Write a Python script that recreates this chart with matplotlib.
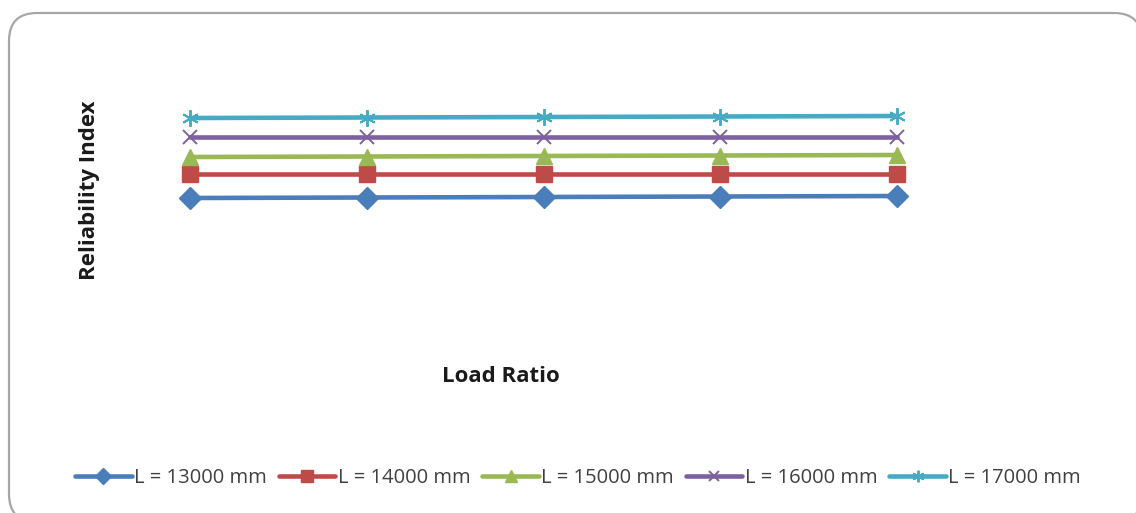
import matplotlib
matplotlib.use("Agg")
import matplotlib.pyplot as plt
from matplotlib.patches import FancyBboxPatch, Polygon

plt.rcParams['font.family'] = ['Open Sans', 'DejaVu Sans']

# load ratio and reliability index for each span length
load_ratio = [0.5, 1.0, 1.5, 2.0, 2.5]
beta_13000 = [3.35, 3.355, 3.36, 3.365, 3.37]
beta_14000 = [3.59, 3.59, 3.59, 3.59, 3.59]
beta_15000 = [3.76, 3.765, 3.77, 3.775, 3.78]
beta_16000 = [3.96, 3.96, 3.96, 3.96, 3.96]
beta_17000 = [4.15, 4.155, 4.16, 4.165, 4.17]
labels = ['L = 13000 mm', 'L = 14000 mm', 'L = 15000 mm', 'L = 16000 mm', 'L = 17000 mm']

W, H = 1136, 513
fig = plt.figure(figsize=(W / 100, H / 100), dpi=100)

# background axes in pixel units, only for the rounded chart border
bg = fig.add_axes([0, 0, 1, 1])
bg.set_xlim(0, W)
bg.set_ylim(0, H)
bg.axis('off')
box = FancyBboxPatch((9, H - 522), 1133, 509, boxstyle="round,pad=0,rounding_size=28")
# flatten the curves so agg doesn't mangle the corners that leave the canvas
outline = box.get_path().to_polygons()[0]
bg.add_patch(Polygon(outline, closed=True, fill=False, edgecolor='#a6a6a6',
                     linewidth=1.6, clip_on=False))

ax = fig.add_axes([101.5 / W, 1 - 283 / H, 884 / W, 200 / H])
ax.set_facecolor('none')

styles = [
    (beta_13000, '#4a7ebb', 'D', 11, 'fill'),
    (beta_14000, '#be4b48', 's', 12, 'fill'),
    (beta_15000, '#98b954', '^', 12, 'fill'),
    (beta_16000, '#7d60a0', 'x', 10, 'thin'),
    (beta_17000, '#46aac5', (6, 2, 0), 12, 'thin'),
]
for (vals, c, m, ms, kind), lab in zip(styles, labels):
    if kind == 'fill':
        ax.plot(load_ratio, vals, color=c, lw=3.3, marker=m, ms=ms,
                mfc=c, mec=c, label=lab, solid_capstyle='round')
    else:
        ax.plot(load_ratio, vals, color=c, lw=3.3, marker=m, ms=ms,
                mec=c, mew=1.4, label=lab, solid_capstyle='round')

ax.set_xlim(0.25, 2.75)
ax.set_ylim(2.5, 4.5)
for s in ax.spines.values():
    s.set_visible(False)
ax.set_xticks([])
ax.set_yticks([])

fig.text(89 / W, 1 - 190 / H, 'Reliability Index', rotation=90, ha='center',
         va='center', fontsize=16, fontweight='bold', color='#1a1a1a')
fig.text(501 / W, 1 - 376 / H, 'Load Ratio', ha='center', va='center',
         fontsize=16, fontweight='bold', color='#1a1a1a')

leg = fig.legend(loc='center', bbox_to_anchor=(578 / W, 1 - 478 / H), ncol=5,
                 frameon=False, fontsize=14.5, handlelength=2.8,
                 handletextpad=0.12, columnspacing=0.6, markerscale=0.7,
                 borderaxespad=0)
for t in leg.get_texts():
    t.set_color('#404040')

fig.savefig('out.png', dpi=100)
